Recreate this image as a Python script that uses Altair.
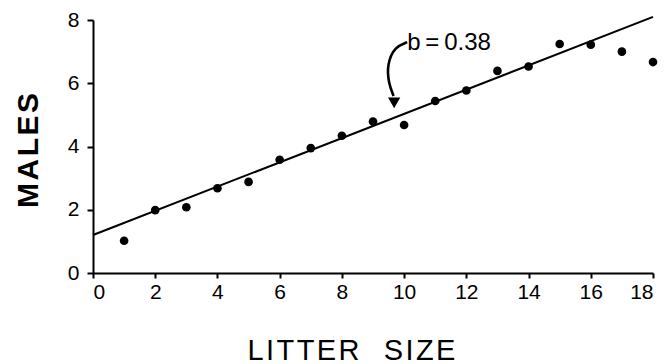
import altair as alt
import pandas as pd

# Data
litter_size = [1, 2, 3, 4, 5, 6, 7, 8, 9, 10, 11, 12, 13, 14, 15, 16, 17, 18]
males = [1.02, 1.99, 2.08, 2.68, 2.88, 3.58, 3.95, 4.34, 4.79, 4.68,
         5.44, 5.77, 6.39, 6.53, 7.24, 7.22, 7.00, 6.67]

# Regression line endpoints (b = 0.38)
line_x = [0, 18]
line_y = [1.2, 8.1]

# Annotation (data units)
label_text = ["b\u2009=\u20090.38"]
label_x = [10.1]
label_y = [7.28]
arrow_x = [10.1, 9.7, 9.45, 9.5, 9.66]
arrow_y = [7.3, 7.15, 6.6, 6.0, 5.6]
head_x = [9.68]
head_y = [5.38]

x_ticks = [0, 2, 4, 6, 8, 10, 12, 14, 16, 18]
y_ticks = [0, 2, 4, 6, 8]

pts = pd.DataFrame({"x": litter_size, "y": males})
ln = pd.DataFrame({"x": line_x, "y": line_y})
lab = pd.DataFrame({"x": label_x, "y": label_y, "t": label_text})
arr = pd.DataFrame({"x": arrow_x, "y": arrow_y, "o": list(range(len(arrow_x)))})
head = pd.DataFrame({"x": head_x, "y": head_y})

FONT = "Liberation Sans"
HS = "\u200a"
x_title = HS.join("LITTER") + "\u00a0\u00a0\u00a0" + HS.join("SIZE")
y_title = HS.join("MALES")

xscale = alt.Scale(domain=[0, 18], nice=False, zero=False)
yscale = alt.Scale(domain=[0, 8], nice=False)

xax = alt.Axis(values=x_ticks, title=x_title, grid=False,
               labelFontSize=21, labelFont=FONT, labelColor="black",
               tickColor="black", domainColor="black", domainWidth=2,
               tickWidth=2, tickSize=5, labelPadding=3,
               titleFont=FONT, titleFontSize=29, titleFontWeight="normal",
               titleColor="black", titleX=258, titleY=86,
               titleAlign="center", titleBaseline="alphabetic")
yax = alt.Axis(values=y_ticks, title=y_title, grid=False,
               labelFontSize=21, labelFont=FONT, labelColor="black",
               tickColor="black", domainColor="black", domainWidth=2,
               tickWidth=2, tickSize=6, labelPadding=8,
               titleFont=FONT, titleFontSize=30, titleFontWeight="bold",
               titleColor="black", titleX=-65, titleY=130,
               titleBaseline="middle", titleAlign="center")

points = alt.Chart(pts).mark_circle(size=75, color="black", opacity=1).encode(
    x=alt.X("x:Q", scale=xscale, axis=xax),
    y=alt.Y("y:Q", scale=yscale, axis=yax),
)
reg = alt.Chart(ln).mark_line(color="black", strokeWidth=2).encode(
    x=alt.X("x:Q", scale=xscale), y=alt.Y("y:Q", scale=yscale))
arrow = alt.Chart(arr).mark_line(color="black", strokeWidth=2.6,
                                  interpolate="basis").encode(
    x=alt.X("x:Q", scale=xscale), y=alt.Y("y:Q", scale=yscale),
    order="o:O")
arrowhead = alt.Chart(head).mark_point(shape="triangle-down", filled=True,
                                       color="black", size=150, opacity=1).encode(
    x=alt.X("x:Q", scale=xscale), y=alt.Y("y:Q", scale=yscale))
text = alt.Chart(lab).mark_text(align="left", baseline="middle", font=FONT,
                                fontSize=24, color="black").encode(
    x=alt.X("x:Q", scale=xscale), y=alt.Y("y:Q", scale=yscale), text="t:N")

chart = alt.layer(reg, points, arrow, arrowhead, text).properties(
    width=560, height=253,
    autosize=alt.AutoSizeParams(type="none"),
    padding={"left": 85, "top": 12, "right": 9, "bottom": 91},
    background="white",
).configure_view(stroke=None)

chart.save("out.html", embed_options={"renderer": "svg", "actions": False})
